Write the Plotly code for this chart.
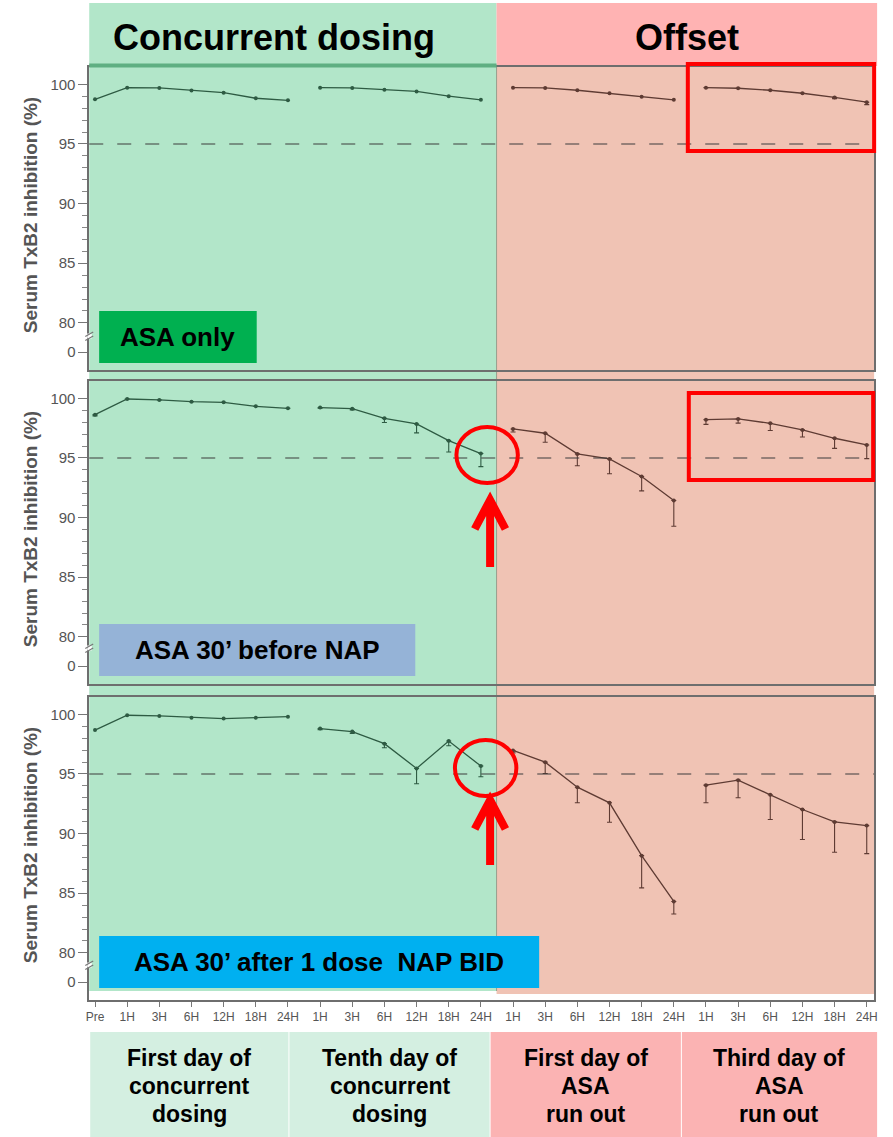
import plotly.graph_objects as go

W, H = 893, 1137

# ---------------- data ----------------
tick_labels = ["Pre", "1H", "3H", "6H", "12H", "18H", "24H",
               "1H", "3H", "6H", "12H", "18H", "24H",
               "1H", "3H", "6H", "12H", "18H", "24H",
               "1H", "3H", "6H", "12H", "18H", "24H"]
segments_idx = [list(range(0, 7)), list(range(7, 13)), list(range(13, 19)), list(range(19, 25))]

# Panel 1: ASA only
p1_day1 = [98.74, 99.72, 99.70, 99.47, 99.30, 98.83, 98.66]
p1_day10 = [99.72, 99.70, 99.55, 99.40, 99.00, 98.70]
p1_off1 = [99.72, 99.70, 99.50, 99.25, 98.95, 98.70]
p1_off3 = [99.72, 99.67, 99.50, 99.25, 98.90, 98.50]
p1_err = [[0]*7, [0]*6, [0]*6, [0, 0, 0, 0, 0.1, 0.2]]

# Panel 2: ASA 30' before NAP
p2_day1 = [98.63, 99.94, 99.86, 99.72, 99.66, 99.33, 99.16]
p2_day10 = [99.22, 99.13, 98.32, 97.85, 96.45, 95.37]
p2_off1 = [97.43, 97.07, 95.34, 94.92, 93.44, 91.43]
p2_off3 = [98.21, 98.27, 97.90, 97.35, 96.65, 96.09]
p2_err = [[0.1, 0, 0, 0, 0, 0, 0],
          [0.05, 0.1, 0.35, 0.75, 0.95, 1.1],
          [0.25, 0.75, 1.0, 1.25, 1.2, 2.15],
          [0.4, 0.35, 0.6, 0.6, 0.85, 1.15]]

# Panel 3: ASA 30' after 1 dose NAP BID
p3_day1 = [98.68, 99.92, 99.86, 99.72, 99.64, 99.72, 99.80]
p3_day10 = [98.80, 98.55, 97.54, 95.46, 97.76, 95.66]
p3_off1 = [96.97, 95.99, 93.89, 92.58, 88.15, 84.31]
p3_off3 = [94.06, 94.48, 93.25, 92.02, 90.98, 90.67]
p3_err = [[0]*7,
          [0.1, 0.15, 0.35, 1.28, 0.4, 0.9],
          [0.2, 0.95, 1.3, 1.63, 2.7, 1.05],
          [1.48, 1.48, 2.07, 2.52, 2.55, 2.35]]

panels = [
    ([p1_day1, p1_day10, p1_off1, p1_off3], p1_err),
    ([p2_day1, p2_day10, p2_off1, p2_off3], p2_err),
    ([p3_day1, p3_day10, p3_off1, p3_off3], p3_err),
]

threshold = 95
y_ticks = [80, 85, 90, 95, 100]
ZERO_POS = 77.55  # position of the "0" label below the axis break

# ---------------- helpers ----------------
def px(x):
    return x / W

def py(y):
    return 1 - y / H

FONT = "Liberation Sans, Arial, sans-serif"
GREEN_BG = "#B2E6C9"
RED_BG = "#F0C3B4"
HEAD_RED = "#FFB3B3"
LINE_GREEN = "#2E5B43"
LINE_BROWN = "#5E3B33"
FRAME = "#6E6E6E"

panel_px = [(67, 370), (381, 684), (697, 1000)]
break_px = [336, 648, 965]

fig = go.Figure()

for p, ((series, errs), (top, bot)) in enumerate(zip(panels, panel_px)):
    xa = "x" if p == 0 else f"x{p+1}"
    ya = "y" if p == 0 else f"y{p+1}"
    for s, (vals, err, idx) in enumerate(zip(series, errs, segments_idx)):
        col = LINE_GREEN if s < 2 else LINE_BROWN
        has_err = any(e > 0 for e in err)
        fig.add_trace(go.Scatter(
            x=idx, y=vals, xaxis=xa, yaxis=ya, mode="lines+markers",
            line=dict(color=col, width=1.3),
            marker=dict(color=col, size=4),
            error_y=dict(type="data", symmetric=False, array=[0]*len(err), arrayminus=err,
                         color=col, thickness=1.1, width=2.5, visible=has_err),
            showlegend=False, hoverinfo="skip"))

layout = dict(width=W, height=H, margin=dict(l=0, r=0, t=0, b=0),
              paper_bgcolor="white", plot_bgcolor="rgba(0,0,0,0)",
              font=dict(family=FONT), showlegend=False)

for p, (top, bot) in enumerate(panel_px):
    xk = "xaxis" if p == 0 else f"xaxis{p+1}"
    yk = "yaxis" if p == 0 else f"yaxis{p+1}"
    ya = "y" if p == 0 else f"y{p+1}"
    xa = "x" if p == 0 else f"x{p+1}"
    last = p == 2
    layout[xk] = dict(domain=[px(86), px(878)], range=[-0.18, 24.23], anchor=ya,
                      showgrid=False, zeroline=False, showline=True, linecolor=FRAME,
                      linewidth=1.5, mirror=True,
                      tickmode="array", tickvals=list(range(len(tick_labels))),
                      ticktext=tick_labels, showticklabels=last,
                      ticks="outside" if last else "", ticklen=5, tickcolor="#777",
                      tickfont=dict(size=12, color="#555", family=FONT))
    layout[yk] = dict(domain=[py(bot), py(top)], range=[76.05, 101.45], anchor=xa,
                      showgrid=False, zeroline=False, showline=True, linecolor=FRAME,
                      linewidth=1.5, mirror=True,
                      tickmode="array", tickvals=[ZERO_POS] + y_ticks,
                      ticktext=["0"] + [str(t) for t in y_ticks],
                      ticks="outside", ticklen=9, tickcolor="#777",
                      tickfont=dict(size=15, color="#555", family=FONT),
                      minor=dict(tickvals=list(range(80, 101)), ticks="outside",
                                 ticklen=5, tickcolor="#888"))

shapes = []
# background regions
shapes.append(dict(type="rect", xref="paper", yref="paper", x0=px(86), x1=px(497),
                   y0=py(3), y1=py(66), fillcolor=GREEN_BG, line=dict(width=0), layer="below"))
shapes.append(dict(type="rect", xref="paper", yref="paper", x0=px(497), x1=px(881),
                   y0=py(3), y1=py(66), fillcolor=HEAD_RED, line=dict(width=0), layer="below"))
shapes.append(dict(type="rect", xref="paper", yref="paper", x0=px(86), x1=px(497),
                   y0=py(66), y1=py(991), fillcolor=GREEN_BG, line=dict(width=0), layer="below"))
shapes.append(dict(type="rect", xref="paper", yref="paper", x0=px(497), x1=px(878),
                   y0=py(66), y1=py(994), fillcolor=RED_BG, line=dict(width=0), layer="below"))
shapes.append(dict(type="line", xref="paper", yref="paper", x0=px(497), x1=px(497),
                   y0=py(66), y1=py(991), line=dict(color="rgba(90,110,90,0.55)", width=1),
                   layer="below"))
# green header underline
shapes.append(dict(type="line", xref="paper", yref="paper", x0=px(86), x1=px(497),
                   y0=py(65.5), y1=py(65.5), line=dict(color="#5FAF82", width=4)))

for p, (top, bot) in enumerate(panel_px):
    ya = "y" if p == 0 else f"y{p+1}"
    xa = "x" if p == 0 else f"x{p+1}"
    # threshold dashed line
    shapes.append(dict(type="line", xref=f"{xa} domain", yref=ya, x0=0, x1=1,
                       y0=threshold, y1=threshold,
                       line=dict(color="rgba(60,60,60,0.5)", width=2, dash="14px,14px")))
    # axis break marker
    b = break_px[p]
    shapes.append(dict(type="rect", xref="paper", yref="paper", x0=px(84), x1=px(88.5),
                       y0=py(b + 2.5), y1=py(b - 2.5), fillcolor="white",
                       line=dict(width=0)))
    shapes.append(dict(type="line", xref="paper", yref="paper", x0=px(82), x1=px(90),
                       y0=py(b + 0.5), y1=py(b - 4), line=dict(color="#777", width=1.2)))
    shapes.append(dict(type="line", xref="paper", yref="paper", x0=px(82), x1=px(90),
                       y0=py(b + 4.5), y1=py(b), line=dict(color="#777", width=1.2)))

# label boxes
label_boxes = [(96, 255, 311, 363, "#00B050", "ASA only"),
               (96, 415, 624, 676, "#95B3D7", "ASA 30’ before NAP"),
               (96, 540, 936, 988, "#00B0F0", "ASA 30’ after 1 dose\u00a0 NAP BID")]
annotations = []
for x0, x1, y0, y1, c, t in label_boxes:
    shapes.append(dict(type="rect", xref="paper", yref="paper", x0=px(x0), x1=px(x1),
                       y0=py(y1), y1=py(y0), fillcolor=c, line=dict(width=0)))
    annotations.append(dict(xref="paper", yref="paper", x=px((x0 + x1) / 2), y=py((y0 + y1) / 2),
                            text=f"<b>{t}</b>", showarrow=False, xanchor="center", yanchor="middle",
                            font=dict(size=26, color="black", family=FONT)))

# red highlight rectangles
RED = "#FF0000"
for x0, x1, y0, y1 in [(690, 878, 64, 151), (691, 877, 393, 480)]:
    shapes.append(dict(type="rect", xref="paper", yref="paper", x0=px(x0), x1=px(x1),
                       y0=py(y1), y1=py(y0), line=dict(color=RED, width=4)))
# red circles
for cx, cy in [(487.5, 455), (486, 768)]:
    shapes.append(dict(type="circle", xref="paper", yref="paper", x0=px(cx - 31), x1=px(cx + 31),
                       y0=py(cy + 28), y1=py(cy - 28), line=dict(color=RED, width=4)))
# red arrows
for tip, base in [(497, 567), (797, 865)]:
    path = (f"M {px(490.5)} {py(base)} L {px(490.5)} {py(tip + 4)} "
            f"M {px(475)} {py(tip + 32)} L {px(490.5)} {py(tip + 3)} L {px(506)} {py(tip + 32)}")
    shapes.append(dict(type="path", xref="paper", yref="paper", path=path,
                       line=dict(color=RED, width=8)))

# bottom boxes
bottom_boxes = [(87, 287, "#D4EFE1", ["First day of", "concurrent", "dosing"]),
                (288, 490, "#D4EFE1", ["Tenth day of", "concurrent", "dosing"]),
                (491, 683, "#FBB3B3", ["First day of", "ASA", "run out"]),
                (684, 881, "#FBB3B3", ["Third day of", "ASA", "run out"])]
line_y = [1058, 1086, 1114]
for x0, x1, c, lines in bottom_boxes:
    shapes.append(dict(type="rect", xref="paper", yref="paper", x0=px(x0), x1=px(x1),
                       y0=0, y1=py(1032), fillcolor=c, line=dict(width=0)))
    for ly, t in zip(line_y, lines):
        annotations.append(dict(xref="paper", yref="paper", x=px((x0 + x1) / 2), y=py(ly),
                                text=f"<b>{t}</b>", showarrow=False, xanchor="center",
                                yanchor="middle",
                                font=dict(size=23, color="black", family=FONT)))

# header texts
annotations.append(dict(xref="paper", yref="paper", x=px(272), y=py(37),
                        text="<b>Concurrent dosing</b>", showarrow=False,
                        xanchor="center", yanchor="middle",
                        font=dict(size=36, color="black", family=FONT)))
annotations.append(dict(xref="paper", yref="paper", x=px(689), y=py(37),
                        text="<b>Offset</b>", showarrow=False,
                        xanchor="center", yanchor="middle",
                        font=dict(size=36, color="black", family=FONT)))

# y-axis titles
for top, bot in panel_px:
    annotations.append(dict(xref="paper", yref="paper", x=px(27), y=py((top + bot) / 2 - 3),
                            text="<b>Serum TxB2 inhibition (%)</b>", textangle=-90,
                            showarrow=False, xanchor="center", yanchor="middle",
                            font=dict(size=19, color="#555", family=FONT)))

layout["shapes"] = shapes
layout["annotations"] = annotations
fig.update_layout(**layout)
fig.write_html("out.html")
